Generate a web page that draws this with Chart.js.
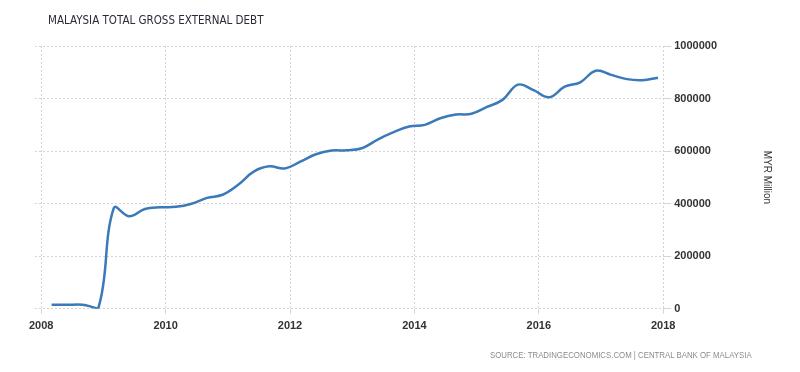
<!DOCTYPE html>
<html>
<head>
<meta charset="utf-8">
<script src="https://cdn.jsdelivr.net/npm/chart.js@4.4.1/dist/chart.umd.min.js"></script>
<style>
body { margin: 0; background: #fff; }
#wrap { position: relative; width: 800px; height: 372px; }
#title { position: absolute; left: 48px; top: 13px; font: 11.5px "DejaVu Sans Condensed", "Liberation Sans", sans-serif; color: #2a2a3a; font-weight: 500; }
#source { position: absolute; left: 490px; top: 350px; font: 9px "Liberation Sans", sans-serif; color: #8c8c8c; transform: scaleX(0.87); transform-origin: left top; white-space: nowrap; }
</style>
</head>
<body>
<div id="wrap">
  <canvas id="debtChart" width="800" height="372"></canvas>
  <div id="title">MALAYSIA TOTAL GROSS EXTERNAL DEBT</div>
  <div id="source">SOURCE: TRADINGECONOMICS.COM | CENTRAL BANK OF MALAYSIA</div>
</div>
<script>
// quarterly observations (MYR million)
const dates = [
  '2008-03', '2008-06', '2008-09', '2008-12',
  '2009-03', '2009-06', '2009-09', '2009-12',
  '2010-03', '2010-06', '2010-09', '2010-12',
  '2011-03', '2011-06', '2011-09', '2011-12',
  '2012-03', '2012-06', '2012-09', '2012-12',
  '2013-03', '2013-06', '2013-09', '2013-12',
  '2014-03', '2014-06', '2014-09', '2014-12',
  '2015-03', '2015-06', '2015-09', '2015-12',
  '2016-03', '2016-06', '2016-09', '2016-12',
  '2017-03', '2017-06', '2017-09', '2017-12'
];
const debt = [
  15000, 15000, 15000, 2000,
  383000, 352000, 380000, 386000,
  388000, 400000, 422000, 434000,
  472000, 522000, 542000, 534000,
  560000, 588000, 602000, 603000,
  612000, 645000, 672000, 694000,
  700000, 725000, 739000, 742000,
  768000, 795000, 853000, 832000,
  805000, 845000, 862000, 906000,
  890000, 874000, 870000, 879000
];
const yearTicks = [2008, 2010, 2012, 2014, 2016, 2018];
const valueTicks = [0, 200000, 400000, 600000, 800000, 1000000];

function toYear(d) {
  const [y, m] = d.split('-').map(Number);
  return y + (m - 1) / 12;
}

const points = dates.map((d, i) => ({ x: toYear(d), y: debt[i] }));
const tickFont = { family: 'Liberation Sans', size: 11, weight: 'bold' };

new Chart(document.getElementById('debtChart'), {
  type: 'line',
  data: {
    datasets: [{
      data: points,
      borderColor: '#3a7ab8',
      borderWidth: 2.5,
      pointRadius: 0,
      tension: 0.4,
      fill: false
    }]
  },
  options: {
    responsive: false,
    animation: false,
    layout: { padding: { left: 35, top: 46, right: 23, bottom: 33 } },
    plugins: { legend: { display: false }, tooltip: { enabled: false } },
    scales: {
      x: {
        type: 'linear',
        min: 2007.9,
        max: 2018,
        afterBuildTicks: scale => { scale.ticks = yearTicks.map(v => ({ value: v })); },
        ticks: { color: '#333', font: tickFont, padding: 6, maxRotation: 0, callback: v => String(v) },
        grid: { color: '#d4d4d4', tickLength: 5 },
        border: { display: false, dash: [2, 2] }
      },
      y: {
        position: 'right',
        min: 0,
        max: 1000000,
        afterBuildTicks: scale => { scale.ticks = valueTicks.map(v => ({ value: v })); },
        ticks: { color: '#333', font: tickFont, padding: 3, callback: v => String(v) },
        grid: { color: '#d4d4d4', tickLength: 8 },
        border: { display: false, dash: [2, 2] },
        title: {
          display: true,
          text: 'MYR Million',
          color: '#333',
          font: { family: 'Liberation Sans', size: 10 },
          padding: { top: 4, bottom: 41 }
        }
      }
    }
  }
});
</script>
</body>
</html>
